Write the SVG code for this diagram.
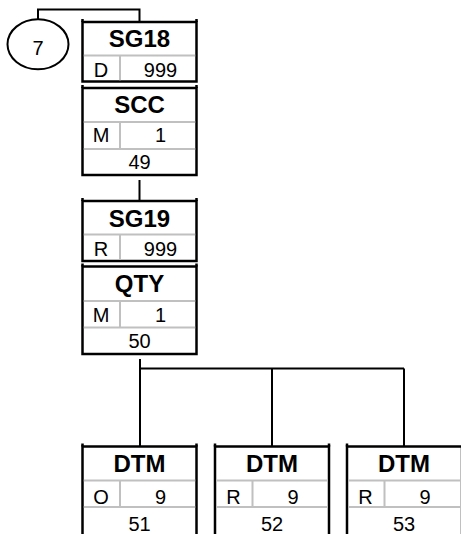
<svg xmlns="http://www.w3.org/2000/svg" width="461" height="534" viewBox="0 0 461 534">
<style>
.b{fill:#fff;stroke:#000;stroke-width:2.5}
.k{stroke:#000;stroke-width:2.5;fill:none}
.g{stroke:#c0c0c0;stroke-width:2;fill:none}
.c{stroke:#000;stroke-width:2;fill:none}
text{font-family:"Liberation Sans",Arial,sans-serif;text-anchor:middle;fill:#000}
.t{font-size:24px;font-weight:bold}
.r{font-size:20px}
</style>
<rect width="461" height="534" fill="#fff"/>
<g id="connectors">
<path class="c" d="M38,19.5 V9.5 H139.5 V22"/>
<path class="c" d="M139.5,180 V201"/>
<path class="c" d="M140,359 V446.5 M140,368.5 H404 M272,368.5 V446.5 M404,368.5 V446.5"/>
</g>
<g id="n7">
<ellipse cx="38" cy="44.3" rx="30.5" ry="25" fill="#fff" stroke="#000" stroke-width="2"/>
<text class="r" x="38" y="54.5">7</text>
</g>
<g id="SG18">
<rect class="b" x="82.5" y="22" width="114" height="59.5"/>
<path class="k" d="M82.5,19 V22 M196.5,19 V22"/>
<path class="g" d="M83.8,55.5 H195.2 M120,55.5 V80.2"/>
<text class="t" x="139.5" y="47">SG18</text>
<text class="r" x="101" y="77">D</text>
<text class="r" x="160.5" y="77">999</text>
</g>
<g id="SCC">
<rect class="b" x="82.5" y="88" width="114" height="87"/>
<path class="k" d="M82.5,85 V88 M196.5,85 V88"/>
<path class="g" d="M83.8,122 H195.2 M83.8,149 H195.2 M120,122 V149"/>
<text class="t" x="139.5" y="112.5">SCC</text>
<text class="r" x="101" y="142">M</text>
<text class="r" x="160.5" y="142">1</text>
<text class="r" x="139.5" y="168.5">49</text>
</g>
<g id="SG19">
<rect class="b" x="82.5" y="201" width="114" height="60"/>
<path class="k" d="M82.5,198 V201 M196.5,198 V201"/>
<path class="g" d="M83.8,234.5 H195.2 M120,234.5 V259.7"/>
<text class="t" x="139.5" y="227">SG19</text>
<text class="r" x="101" y="256">R</text>
<text class="r" x="160.5" y="256">999</text>
</g>
<g id="QTY">
<rect class="b" x="82.5" y="266.5" width="114" height="87.5"/>
<path class="k" d="M82.5,263.5 V266.5 M196.5,263.5 V266.5"/>
<path class="g" d="M83.8,301 H195.2 M83.8,327.5 H195.2 M120,301 V327.5"/>
<text class="t" x="139.5" y="292">QTY</text>
<text class="r" x="101" y="322">M</text>
<text class="r" x="160.5" y="322">1</text>
<text class="r" x="139.5" y="348">50</text>
</g>
<g id="DTM51">
<rect class="b" x="82.5" y="446.5" width="114" height="100"/>
<path class="k" d="M82.5,443.5 V446.5 M196.5,443.5 V446.5"/>
<path class="g" d="M83.8,480.5 H195.2 M83.8,507 H195.2 M120,480.5 V507"/>
<text class="t" x="139.5" y="472">DTM</text>
<text class="r" x="101" y="504">O</text>
<text class="r" x="160.5" y="504">9</text>
<text class="r" x="139.5" y="530.5">51</text>
</g>
<g id="DTM52">
<rect class="b" x="215" y="446.5" width="114" height="100"/>
<path class="k" d="M215,443.5 V446.5 M329,443.5 V446.5"/>
<path class="g" d="M216.3,480.5 H327.7 M216.3,507 H327.7 M252.5,480.5 V507"/>
<text class="t" x="272" y="472">DTM</text>
<text class="r" x="233.5" y="504">R</text>
<text class="r" x="293" y="504">9</text>
<text class="r" x="272" y="530.5">52</text>
</g>
<g id="DTM53">
<rect class="b" x="347" y="446.5" width="115" height="100"/>
<path class="k" d="M347,443.5 V446.5"/>
<path class="g" d="M348.3,480.5 H461 M348.3,507 H461 M384.5,480.5 V507"/>
<text class="t" x="404" y="472">DTM</text>
<text class="r" x="365.5" y="504">R</text>
<text class="r" x="425" y="504">9</text>
<text class="r" x="404" y="530.5">53</text>
</g>
</svg>
